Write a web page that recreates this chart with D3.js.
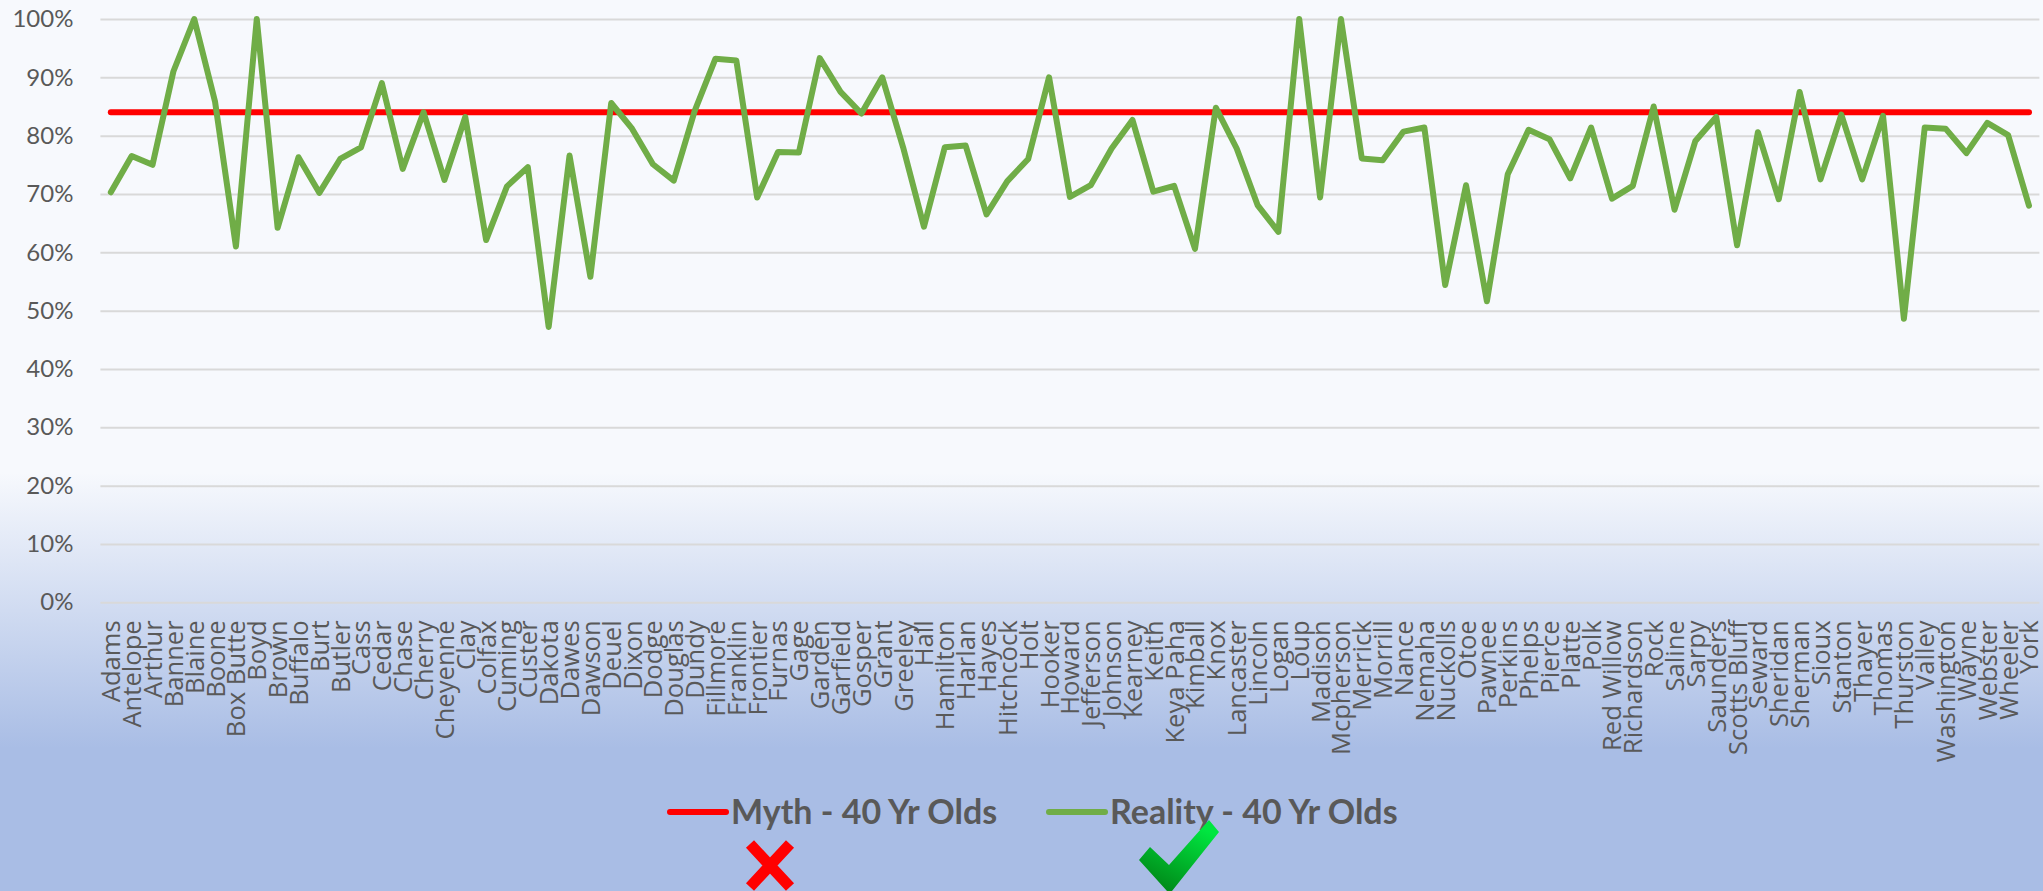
<!DOCTYPE html>
<html>
<head>
<meta charset="utf-8">
<script src="https://cdn.jsdelivr.net/npm/d3@7"></script>
<style>
	html, body { margin: 0; padding: 0; background: #a9bde5; overflow: hidden; }
	svg { display: block; }
	text { fill: #595959; font-family: Lato, sans-serif; }
	.x-axis text { font-family: "Open Sans", sans-serif; font-size: 25.6px; }
	.y-axis text { font-size: 24px; }
	.legend-label { font-size: 34px; font-weight: bold; }
</style>
</head>
<body>
<div id="chart"></div>
<script>
// Nebraska counties, left to right
let counties = ["Adams", "Antelope", "Arthur", "Banner", "Blaine", "Boone", "Box Butte", "Boyd", "Brown", "Buffalo",
	"Burt", "Butler", "Cass", "Cedar", "Chase", "Cherry", "Cheyenne", "Clay", "Colfax", "Cuming",
	"Custer", "Dakota", "Dawes", "Dawson", "Deuel", "Dixon", "Dodge", "Douglas", "Dundy", "Fillmore",
	"Franklin", "Frontier", "Furnas", "Gage", "Garden", "Garfield", "Gosper", "Grant", "Greeley", "Hall",
	"Hamilton", "Harlan", "Hayes", "Hitchcock", "Holt", "Hooker", "Howard", "Jefferson", "Johnson", "Kearney",
	"Keith", "Keya Paha", "Kimball", "Knox", "Lancaster", "Lincoln", "Logan", "Loup", "Madison", "Mcpherson",
	"Merrick", "Morrill", "Nance", "Nemaha", "Nuckolls", "Otoe", "Pawnee", "Perkins", "Phelps", "Pierce",
	"Platte", "Polk", "Red Willow", "Richardson", "Rock", "Saline", "Sarpy", "Saunders", "Scotts Bluff", "Seward",
	"Sheridan", "Sherman", "Sioux", "Stanton", "Thayer", "Thomas", "Thurston", "Valley", "Washington", "Wayne",
	"Webster", "Wheeler", "York"];

let reality = [70.3, 76.5, 75, 91, 100, 85.8, 61, 100, 64.2, 76.3,
	70.2, 76, 78, 89, 74.3, 84, 72.4, 83.2, 62.1, 71.3,
	74.6, 47.2, 76.6, 55.8, 85.6, 81.2, 75.1, 72.3, 84.2, 93.2,
	92.9, 69.4, 77.2, 77.1, 93.3, 87.5, 83.8, 90, 78, 64.4,
	78, 78.3, 66.5, 72.2, 76, 90, 69.5, 71.5, 77.8, 82.7,
	70.4, 71.4, 60.6, 84.8, 77.8, 68.1, 63.5, 100, 69.4, 100,
	76.1, 75.8, 80.7, 81.4, 54.4, 71.5, 51.6, 73.4, 81, 79.4,
	72.7, 81.4, 69.2, 71.4, 85, 67.3, 79.1, 83.2, 61.2, 80.6,
	69.1, 87.5, 72.5, 83.6, 72.5, 83.4, 48.6, 81.4, 81.2, 77,
	82.2, 80.1, 68];

let mythValue = 84;
let myth = counties.map(() => mythValue);

let yTicks = [0, 10, 20, 30, 40, 50, 60, 70, 80, 90, 100];
let seriesNames = ["Myth - 40 Yr Olds", "Reality - 40 Yr Olds"];
let seriesColors = ["#ff0000", "#70ad47"];

let width = 2043, height = 891;
let margin = {top: 19, right: 3.6, bottom: 288.7, left: 100.4};
let innerW = width - margin.left - margin.right;
let innerH = height - margin.top - margin.bottom;

let svg = d3.select("#chart").append("svg")
	.attr("width", width)
	.attr("height", height);

// slide background, pale on top, fading to blue under the plot
let defs = svg.append("defs");
let bg = defs.append("linearGradient")
	.attr("id", "bg")
	.attr("x1", 0).attr("y1", 0).attr("x2", 0).attr("y2", 1);
[[0, "#f7f9fd"], [0.53, "#f7f9fd"], [0.84, "#a9bde5"], [1, "#a9bde5"]].forEach(s => {
	bg.append("stop").attr("offset", s[0]).attr("stop-color", s[1]);
});
let check = defs.append("linearGradient")
	.attr("id", "checkFill")
	.attr("x1", 0).attr("y1", 1).attr("x2", 0.6).attr("y2", 0);
[[0, "#007a12"], [1, "#00e640"]].forEach(s => {
	check.append("stop").attr("offset", s[0]).attr("stop-color", s[1]);
});

svg.append("rect")
	.attr("width", width)
	.attr("height", height)
	.attr("fill", "url(#bg)");

let g = svg.append("g")
	.attr("transform", `translate(${margin.left}, ${margin.top})`);

// Scales and axes
let x = d3.scalePoint()
	.domain(counties)
	.range([0, innerW])
	.padding(0.5);
let y = d3.scaleLinear()
	.domain([0, 100])
	.range([innerH, 0]);

let yAxis = d3.axisLeft(y)
	.tickValues(yTicks)
	.tickFormat(d => d + "%")
	.tickSize(-innerW)
	.tickPadding(27);
let yG = g.append("g")
	.attr("class", "y-axis")
	.call(yAxis);
yG.select(".domain").remove();
yG.selectAll("line")
	.attr("stroke", "#d9d9d9")
	.attr("stroke-width", 2);

let xAxis = d3.axisBottom(x).tickSize(0);
let xG = g.append("g")
	.attr("class", "x-axis")
	.attr("transform", `translate(0, ${innerH})`)
	.call(xAxis);
xG.select(".domain").remove();
xG.selectAll("text")
	.attr("text-anchor", "end")
	.attr("dy", "0.35em")
	.attr("transform", "translate(0, 18) rotate(-90)")
	.attr("x", 0)
	.attr("y", 0);

// Lines
let line = d3.line()
	.x((d, i) => x(counties[i]))
	.y(d => y(d));

[myth, reality].forEach((values, i) => {
	g.append("path")
		.datum(values)
		.attr("fill", "none")
		.attr("stroke", seriesColors[i])
		.attr("stroke-width", 6)
		.attr("stroke-linecap", "round")
		.attr("stroke-linejoin", "round")
		.attr("d", line);
});

// Legend
let legendX = [670, 1049];
seriesNames.forEach((name, i) => {
	svg.append("line")
		.attr("x1", legendX[i]).attr("x2", legendX[i] + 56)
		.attr("y1", 812).attr("y2", 812)
		.attr("stroke", seriesColors[i])
		.attr("stroke-width", 6)
		.attr("stroke-linecap", "round");
	svg.append("text")
		.attr("class", "legend-label")
		.attr("x", legendX[i] + 61)
		.attr("y", 824)
		.text(name);
});

// Pasted-on cross and tick below the legend
svg.append("path")
	.attr("d", "M750,844 L790,887 M790,844 L750,887")
	.attr("stroke", "#ff0000")
	.attr("stroke-width", 11)
	.attr("fill", "none");
svg.append("path")
	.attr("d", "M1139,860 L1150,847 L1169,865 L1209,820 L1219,832 L1172,891 L1167,891 Z")
	.attr("fill", "url(#checkFill)");
</script>
</body>
</html>
